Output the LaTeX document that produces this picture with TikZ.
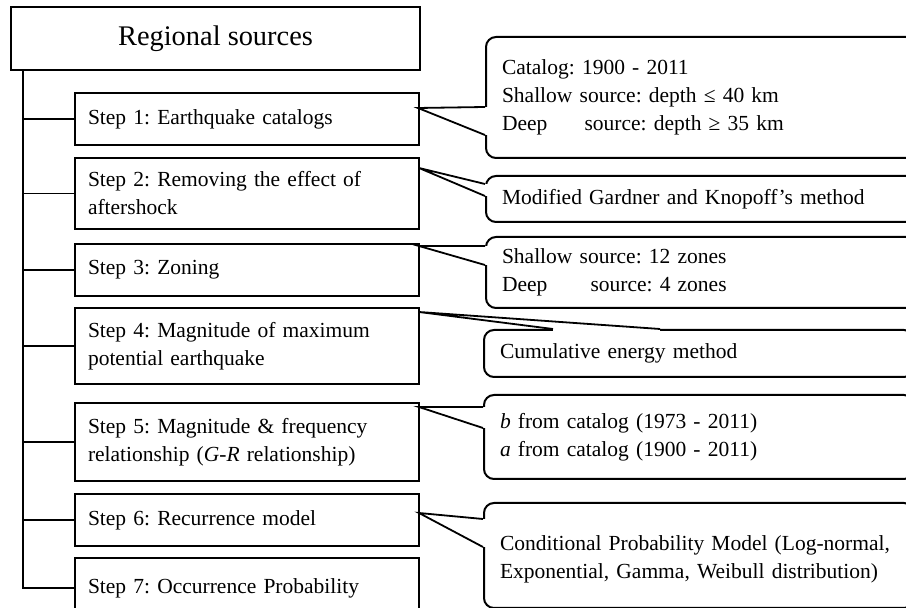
\documentclass[tikz,border=0pt]{standalone}
\usepackage{fontspec}
\setmainfont{Liberation Serif}
\usepackage{tikz}
\usetikzlibrary{calc}
\frenchspacing
\tikzstyle{title} = [draw=black, line width=1pt, anchor=north west, minimum width=204.5pt, minimum height=31.5pt, font=\fontsize{14.2}{17}\selectfont]
\tikzstyle{stepbox} = [draw=black, line width=1pt, anchor=north west, minimum width=172pt, text width=159pt, inner xsep=6.5pt, align=left, font=\fontsize{10.75}{14}\selectfont]
\tikzstyle{note} = [draw=black, line width=1pt, rounded corners=5pt, anchor=north west, minimum width=215pt, text width=199pt, inner xsep=8pt, align=left, font=\fontsize{10.75}{14}\selectfont]
\tikzstyle{link} = [line width=0.9pt]
% callout, base 1, base 2, step, tip
\newcommand{\pointer}[5]{%
  \draw[white, line width=2.5pt] ($(#1.north west)+(#2)$) -- ($(#1.north west)+(#3)$);
  \draw[link] ($(#1.north west)+(#2)$) -- ($(#4.north east)+(#5)$) -- ($(#1.north west)+(#3)$);}

\begin{document}
\begin{tikzpicture}[x=0.5pt,y=-0.5pt]
    \useasboundingbox (0,0) rectangle (906,608);
    \node[title] (reg) at (10,6) {Regional sources};
    \node[stepbox, minimum height=26pt] (s1) at (74,92) {Step 1: Earthquake catalogs};
    \node[stepbox, minimum height=35.5pt] (s2) at (74,157) {Step 2: Removing the effect of\\aftershock};
    \node[stepbox, minimum height=26pt] (s3) at (74,243) {Step 3: Zoning};
    \node[stepbox, minimum height=38pt] (s4) at (74,307) {Step 4: Magnitude of maximum\\potential earthquake};
    \node[stepbox, minimum height=39pt] (s5) at (74,402) {Step 5: Magnitude \& frequency\\relationship (\textit{G}-\textit{R} relationship)};
    \node[stepbox, minimum height=26pt] (s6) at (74,493) {Step 6: Recurrence model};
    \node[stepbox, minimum height=30pt] (s7) at (74,557) {Step 7: Occurrence Probability};
    \draw[link] ($(reg.south west)+(13,0)$) coordinate (top) |- (s7.west);
    \foreach \i in {1,...,6}
        \draw[link] (s\i.west) -- (s\i.west -| top);
    \node[note, minimum height=60.5pt] (c1) at (485,36) {Catalog: 1900 - 2011\\Shallow source: depth ≤ 40 km\\Deep\hspace{15pt} source: depth ≥ 35 km};
    \node[note, minimum height=23pt] (c2) at (485,175) {Modified Gardner and Knopoff’s method};
    \node[note, minimum height=35.5pt] (c3) at (485,236) {Shallow source: 12 zones\\Deep\hspace{18pt} source: 4 zones};
    \node[note, minimum height=23.5pt] (c4) at (483,329) {Cumulative energy method};
    \node[note, minimum height=42pt] (c5) at (483,394) {\textit{b} from catalog (1973 - 2011)\\\textit{a} from catalog (1900 - 2011)};
    \node[note, minimum height=52.5pt, text depth=12pt] (c6) at (483,502) {Conditional Probability Model (Log-normal,\\Exponential, Gamma, Weibull distribution)};
    \pointer{c1}{0,71}{0,99}{s1}{-2,16}
    \pointer{c2}{0,9}{0,21}{s2}{-1,11}
    \pointer{c3}{0,10}{0,29}{s3}{-1,3}
    \pointer{c4}{177,0}{70,0}{s4}{-1,5}
    \pointer{c5}{0,13}{0,34}{s5}{-1,5}
    \pointer{c6}{0,17}{0,45}{s6}{-1,20}
\end{tikzpicture}
\end{document}
